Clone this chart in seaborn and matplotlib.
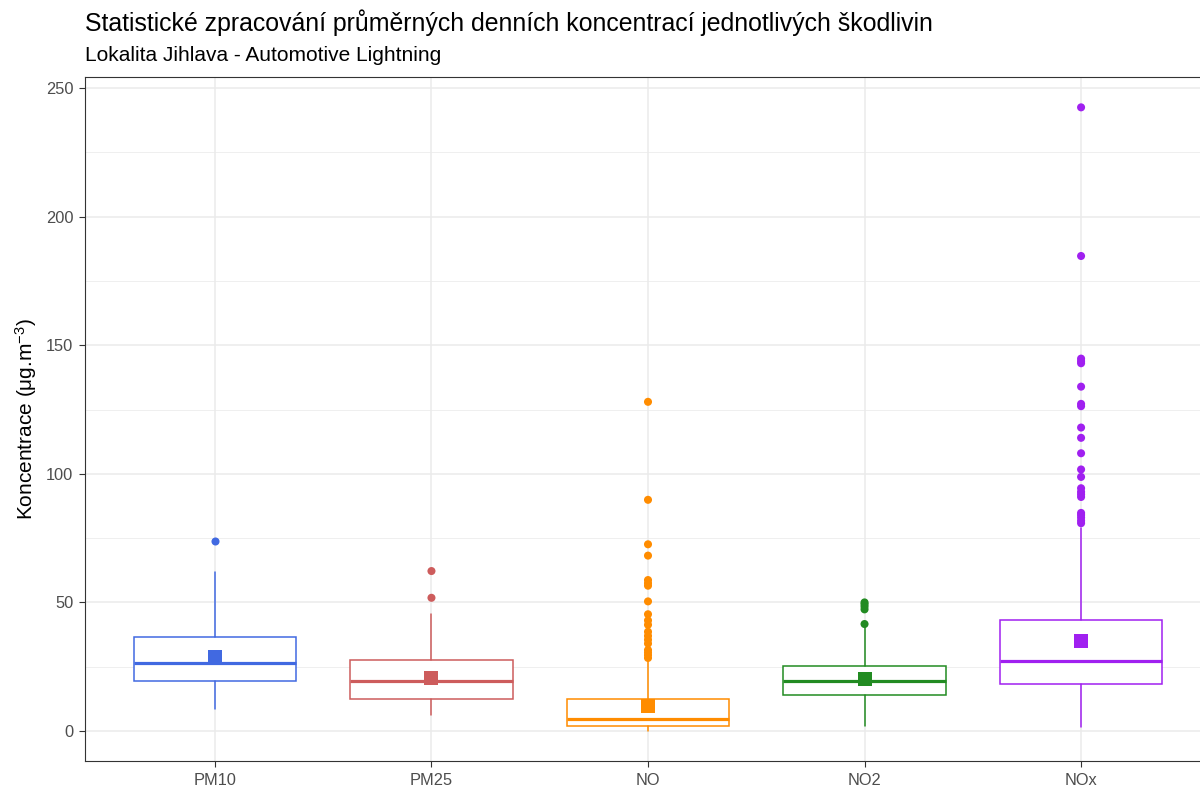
import numpy as np
import pandas as pd
import matplotlib
matplotlib.use("Agg")
import matplotlib.pyplot as plt
import seaborn as sns
from matplotlib.ticker import MultipleLocator

# ---- data ----
categories = ["PM10", "PM25", "NO", "NO2", "NOx"]
colors = ["#4169E1", "#CD5C5C", "#FF8C00", "#228B22", "#A020F0"]
q1 = [19.4, 12.3, 1.9, 14.0, 18.3]
medians = [26.4, 19.4, 4.5, 19.6, 27.4]
q3 = [36.5, 27.6, 12.4, 25.3, 43.2]
whisker_low = [8.6, 6.2, 0.1, 1.8, 1.4]
whisker_high = [61.8, 45.4, 26.9, 40.6, 79.0]
means = [28.6, 20.6, 9.8, 20.4, 35.0]
outliers_pm10 = [73.8]
outliers_pm25 = [51.8, 62.2]
outliers_no = [128.0, 89.9, 72.6, 68.2, 58.7, 57.5, 56.5, 50.4, 45.4, 43.0,
               41.3, 38.6, 37.0, 35.5, 34.0, 31.5, 30.5, 29.5, 28.4]
outliers_no2 = [41.6, 47.3, 48.4, 49.3, 50.0]
outliers_nox = [242.5, 184.7, 144.8, 143.8, 143.0, 133.9, 127.2, 126.3, 118.0,
                114.0, 108.0, 101.7, 98.8, 94.4, 93.0, 92.0, 91.0, 84.8, 84.0,
                83.0, 81.8, 80.8]
outliers = [outliers_pm10, outliers_pm25, outliers_no, outliers_no2, outliers_nox]

title = "Statistické zpracování průměrných denních koncentrací jednotlivých škodlivin"
subtitle = "Lokalita Jihlava - Automotive Lightning"
ylabel = r"Koncentrace (μg.m$^{-3}$)"

# ---- theme ----
sns.set_theme(style="whitegrid")
plt.rcParams["font.family"] = ["Liberation Sans", "DejaVu Sans"]
plt.rcParams["mathtext.fontset"] = "custom"
plt.rcParams["mathtext.rm"] = "Liberation Sans"
plt.rcParams["mathtext.it"] = "Liberation Sans:italic"
plt.rcParams["mathtext.default"] = "regular"

fig = plt.figure(figsize=(12, 7.88), dpi=100)
ax = fig.add_axes([85 / 1200, 27 / 788, 1126 / 1200, 684 / 788])

out_df = pd.DataFrame({
    "cat": [c for c, o in zip(categories, outliers) for _ in o],
    "val": [v for o in outliers for v in o],
})
mean_df = pd.DataFrame({"cat": categories, "val": means})
pal = dict(zip(categories, colors))

# boxes
stats = []
for i, c in enumerate(categories):
    stats.append(dict(label=c, q1=q1[i], med=medians[i], q3=q3[i],
                      whislo=whisker_low[i], whishi=whisker_high[i], fliers=[]))
bp = ax.bxp(stats, positions=range(len(categories)), widths=0.75,
            patch_artist=True, showcaps=False, showfliers=False,
            manage_ticks=False, zorder=2)
for i, c in enumerate(colors):
    bp["boxes"][i].set(facecolor="white", edgecolor=c, linewidth=1.1)
    bp["medians"][i].set(color=c, linewidth=2.3, solid_capstyle="butt")
    bp["whiskers"][2 * i].set(color=c, linewidth=1.1)
    bp["whiskers"][2 * i + 1].set(color=c, linewidth=1.1)

# outliers
sns.stripplot(data=out_df, x="cat", y="val", hue="cat", order=categories,
              hue_order=categories, palette=pal, jitter=False, size=5.8,
              linewidth=0, legend=False, ax=ax, zorder=3)
# means
sns.stripplot(data=mean_df, x="cat", y="val", hue="cat", order=categories,
              hue_order=categories, palette=pal, jitter=False, size=9.4,
              marker="s", linewidth=0, legend=False, ax=ax, zorder=4)

ax.set_xlim(-0.6, 4.6)
ax.set_ylim(-11.66, 254.3)
ax.yaxis.set_major_locator(MultipleLocator(50))
ax.yaxis.set_minor_locator(MultipleLocator(25))
ax.set_xticks(range(len(categories)))
ax.set_xticklabels(categories)

ax.set_axisbelow(True)
ax.grid(False)
ax.yaxis.grid(True, which="major", color="#EBEBEB", linewidth=1.1)
ax.yaxis.grid(True, which="minor", color="#EBEBEB", linewidth=0.55)
ax.xaxis.grid(True, which="major", color="#EBEBEB", linewidth=1.1)

for s in ax.spines.values():
    s.set_visible(True)
    s.set_color("#333333")
    s.set_linewidth(0.8)

ax.tick_params(axis="both", which="major", length=4.5, width=0.8,
               color="#333333", labelcolor="#4D4D4D", labelsize=11.8, pad=4.0,
               bottom=True, left=True)
ax.tick_params(axis="y", which="minor", length=0, left=False)

ax.set_xlabel("")
ax.set_ylabel(ylabel, fontsize=15, color="black")
ax.yaxis.set_label_coords(-0.041, 0.5)

fig.text(85 / 1200, 1 - 31 / 788, title, fontsize=17.9, color="black",
         ha="left", va="baseline")
fig.text(85 / 1200, 1 - 61 / 788, subtitle, fontsize=15, color="black",
         ha="left", va="baseline")

fig.savefig("out.png", dpi=100)
